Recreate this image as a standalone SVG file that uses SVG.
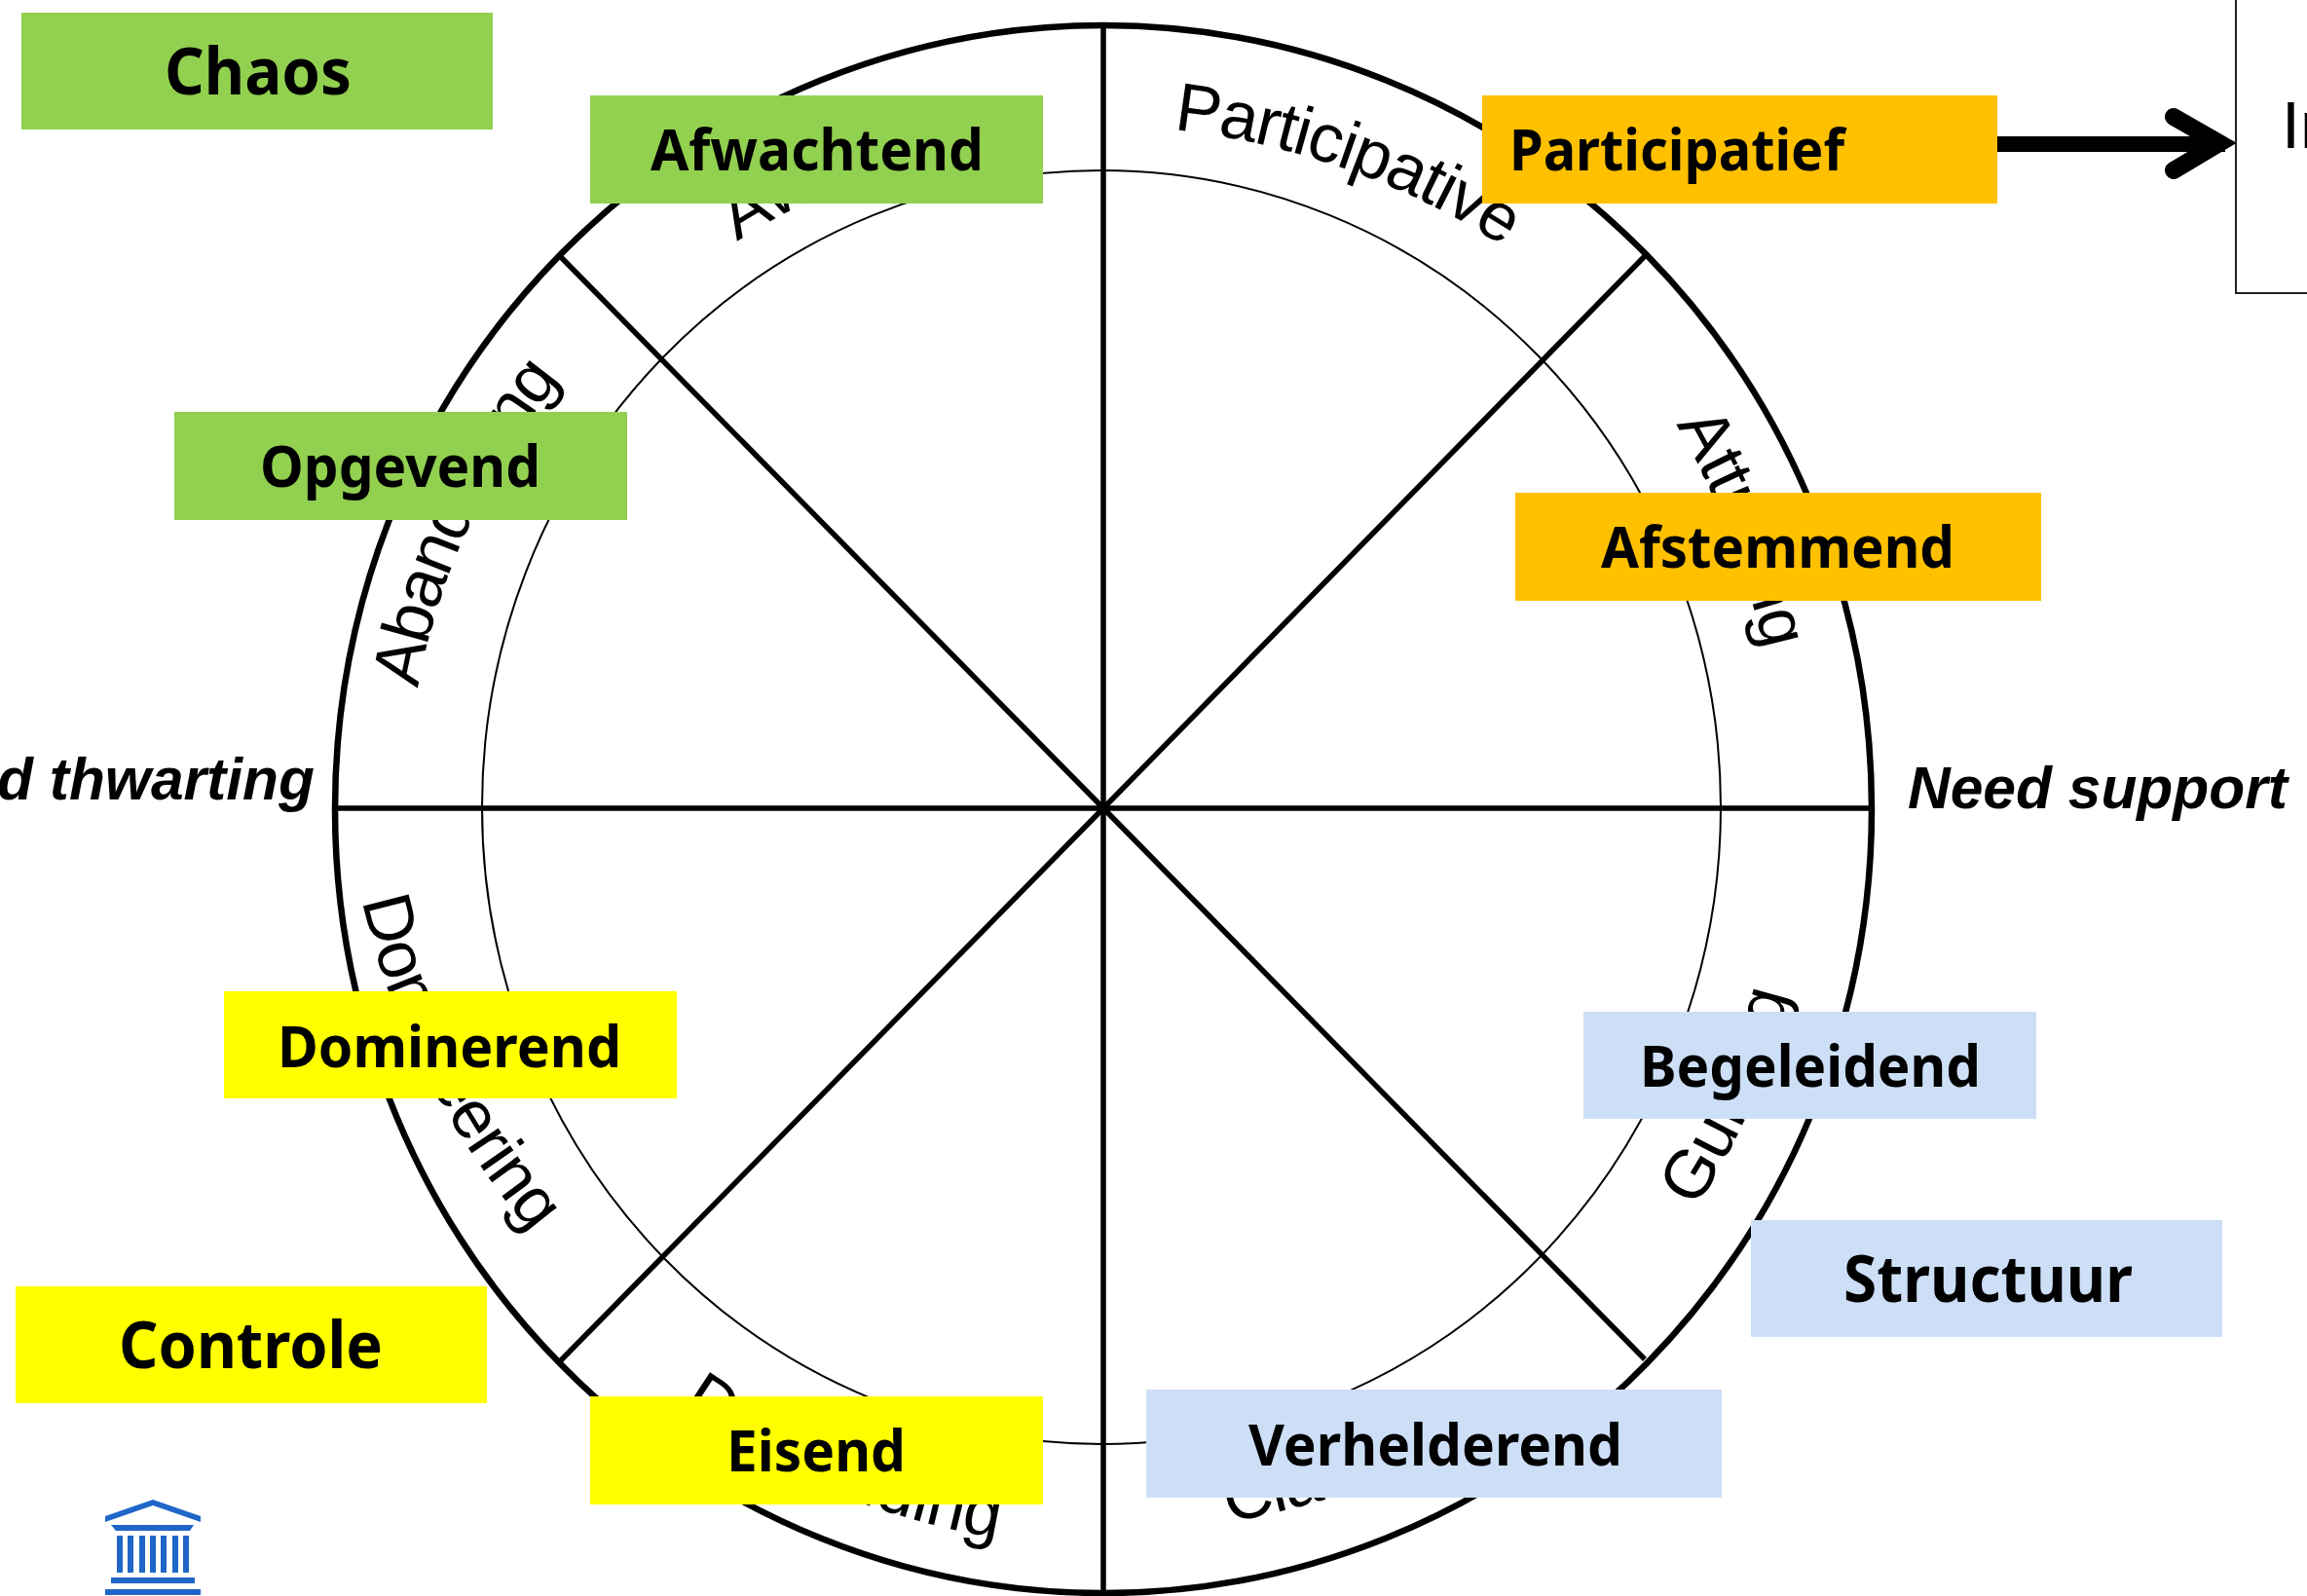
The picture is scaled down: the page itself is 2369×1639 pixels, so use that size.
<svg xmlns="http://www.w3.org/2000/svg" width="2369" height="1639" viewBox="0 0 2369 1639">
<style>
.ring{fill:none;stroke:#000;stroke-width:6.5}
.inner{fill:none;stroke:#000;stroke-width:2}
.spoke{stroke:#000;stroke-width:5.5;fill:none}
.arc{font:70px "Liberation Sans",Arial,sans-serif;fill:#000}
.lab{font-family:"Noto Sans","Open Sans",sans-serif;font-weight:700;font-size:60px;fill:#000}
.big{font-size:66px}
.need{font:italic 700 60.5px "Liberation Sans",Arial,sans-serif;fill:#000}
.green{fill:#92D050}.orange{fill:#FFC000}.yellow{fill:#FFFF00}.blue{fill:#CDDFF7}
.icon{fill:#1F66C8}
</style>
<defs>
<path id="pPart" d="M1205 133 A760 720 0 0 1 1756 460"/>
<path id="pAtt" d="M1721 436 A800 800 0 0 1 1830 850"/>
<path id="pAba" d="M429 707 A720 703 0 0 1 900 165"/>
<path id="pAwa" d="M757 248 A692 692 0 0 1 1132 138"/>
<path id="pDom" d="M372 925 Q415 1120 570 1295"/>
<path id="pDem" d="M698 1446 A790 790 0 0 0 1132 1590"/>
<path id="pCla" d="M1261 1563 A765 745 0 0 0 1794 1202"/>
<path id="pGui" d="M1741 1241 A745 725 0 0 0 1847 726"/>
</defs>
<g id="wheel">
<ellipse class="ring" cx="1133" cy="831" rx="789" ry="805"/>
<ellipse class="inner" cx="1131" cy="829" rx="636" ry="654"/>
</g>
<g id="connectors">
<path class="spoke" d="M1133 26V1636M344 830H1920M575 263L1133 830L1689 263M575 1398L1133 830L1689 1396"/>
<path d="M2051 148H2285" stroke="#000" stroke-width="16" fill="none"/>
<path d="M2232 120L2279 147L2232 175" stroke="#000" stroke-width="18" fill="none" stroke-linecap="round" stroke-miterlimit="10"/>
</g>
<g id="wheel-labels">
<text class="arc" letter-spacing="-1.5"><textPath href="#pPart">Participative</textPath></text>
<text class="arc" letter-spacing="-1"><textPath href="#pAtt">Attuning</textPath></text>
<text class="arc" letter-spacing="-2.2"><textPath href="#pAba">Abandoning</textPath></text>
<text class="arc"><textPath href="#pAwa">Awaiting</textPath></text>
<text class="arc" letter-spacing="-1"><textPath href="#pDom">Domineering</textPath></text>
<text class="arc" letter-spacing="-0.3"><textPath href="#pDem">Demanding</textPath></text>
<text class="arc" letter-spacing="-1"><textPath href="#pCla">Clarifying</textPath></text>
<text class="arc"><textPath href="#pGui">Guiding</textPath></text>
<text class="need" x="-3" y="821">d thwarting</text>
<text class="need" x="1959" y="830">Need support</text>
</g>
<g id="info-box">
<path d="M2296 0V301H2369" fill="none" stroke="#222" stroke-width="2"/>
<text x="2343" y="152" font-family="Liberation Sans, Arial, sans-serif" font-size="68" fill="#000">In</text>
</g>
<g id="chaos"><rect class="green" x="22" y="13" width="484" height="120"/><text class="lab big" x="169" y="97" textLength="192" lengthAdjust="spacingAndGlyphs">Chaos</text></g>
<g id="afwachtend"><rect class="green" x="606" y="98" width="465" height="111"/><text class="lab" x="668" y="175" textLength="342" lengthAdjust="spacingAndGlyphs">Afwachtend</text></g>
<g id="opgevend"><rect class="green" x="179" y="423" width="465" height="111"/><text class="lab" x="267" y="500" textLength="288" lengthAdjust="spacingAndGlyphs">Opgevend</text></g>
<g id="participatief"><rect class="orange" x="1522" y="98" width="529" height="111"/><text class="lab" x="1550" y="175" textLength="344" lengthAdjust="spacingAndGlyphs">Participatief</text></g>
<g id="afstemmend"><rect class="orange" x="1556" y="506" width="540" height="111"/><text class="lab" x="1644" y="583" textLength="363" lengthAdjust="spacingAndGlyphs">Afstemmend</text></g>
<g id="dominerend"><rect class="yellow" x="230" y="1018" width="465" height="110"/><text class="lab" x="285" y="1096" textLength="353" lengthAdjust="spacingAndGlyphs">Dominerend</text></g>
<g id="controle"><rect class="yellow" x="16" y="1321" width="484" height="120"/><text class="lab big" x="122" y="1405" textLength="271" lengthAdjust="spacingAndGlyphs">Controle</text></g>
<g id="eisend"><rect class="yellow" x="606" y="1434" width="465" height="111"/><text class="lab" x="746" y="1511" textLength="184" lengthAdjust="spacingAndGlyphs">Eisend</text></g>
<g id="begeleidend"><rect class="blue" x="1626" y="1039" width="465" height="110"/><text class="lab" x="1684" y="1116" textLength="350" lengthAdjust="spacingAndGlyphs">Begeleidend</text></g>
<g id="structuur"><rect class="blue" x="1798" y="1253" width="484" height="120"/><text class="lab big" x="1893" y="1337" textLength="297" lengthAdjust="spacingAndGlyphs">Structuur</text></g>
<g id="verhelderend"><rect class="blue" x="1177" y="1427" width="591" height="111"/><text class="lab" x="1282" y="1505" textLength="384" lengthAdjust="spacingAndGlyphs">Verhelderend</text></g>
<g id="institution-icon" class="icon">
<polygon points="108,1557 157,1540 206,1557 206,1563 157,1546 108,1563"/>
<polygon points="114,1566 199,1566 195,1572 119,1572"/>
<rect x="120" y="1577" width="6" height="38"/><rect x="131" y="1577" width="6" height="38"/><rect x="143" y="1577" width="6" height="38"/><rect x="154" y="1577" width="6" height="38"/><rect x="165" y="1577" width="6" height="38"/><rect x="177" y="1577" width="6" height="38"/><rect x="188" y="1577" width="6" height="38"/>
<rect x="114" y="1620" width="86" height="6"/>
<rect x="108" y="1632" width="98" height="6"/>
</g>
</svg>
